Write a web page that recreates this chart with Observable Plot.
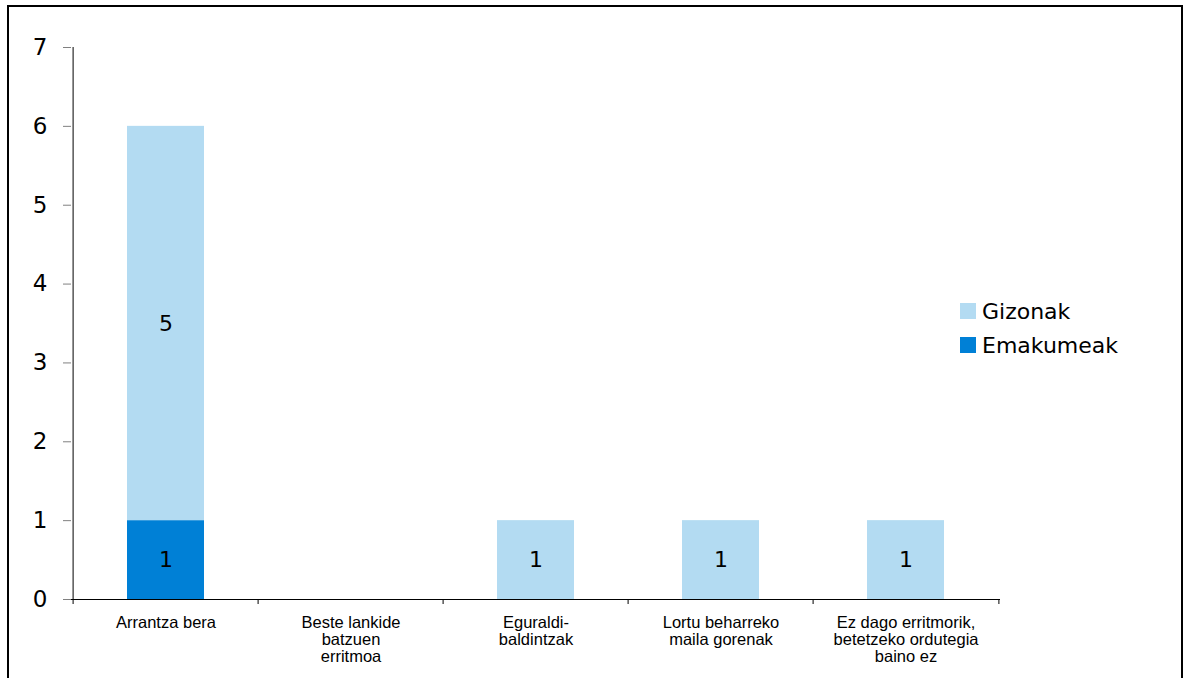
<!DOCTYPE html>
<html>
<head>
<meta charset="utf-8">
<script src="https://cdn.jsdelivr.net/npm/d3@7"></script>
<script src="https://cdn.jsdelivr.net/npm/@observablehq/plot@0.6"></script>
<style>
  html, body { margin: 0; padding: 0; background: #fff; }
  #wrap { position: relative; width: 1183px; height: 678px; overflow: hidden; }
  #frame { position: absolute; left: 7px; top: 5px; width: 1176px; height: 700px;
           border: 2px solid #000; border-bottom: none; box-sizing: border-box; }
  #legend { position: absolute; left: 960px; top: 294px; font-family: "DejaVu Sans", Verdana, sans-serif;
            font-size: 22px; color: #000; }
  .item { display: flex; align-items: center; height: 34px; }
  .sw { width: 16px; height: 16px; margin-right: 6px; }
</style>
</head>
<body>
<div id="wrap">
  <div id="chart"></div>
  <div id="frame"></div>
  <div id="legend"></div>
</div>
<script>
const categories = [
  "Arrantza bera",
  "Beste lankide\nbatzuen\nerritmoa",
  "Eguraldi-\nbaldintzak",
  "Lortu beharreko\nmaila gorenak",
  "Ez dago erritmorik,\nbetetzeko ordutegia\nbaino ez"
];
const seriesNames = ["Emakumeak", "Gizonak"];
const emakumeak = [1, 0, 0, 0, 0];
const gizonak = [5, 0, 1, 1, 1];
const colors = ["#0080d6", "#b3dbf2"];
const yTicks = [0, 1, 2, 3, 4, 5, 6, 7];

const data = [];
categories.forEach((c, i) => data.push({cat: c, series: "Emakumeak", value: emakumeak[i]}));
categories.forEach((c, i) => data.push({cat: c, series: "Gizonak", value: gizonak[i]}));

const W = 1183, H = 678, mL = 71, mR = 183, mT = 47, mB = 79;
const step = (W - mL - mR) / categories.length;

const chart = Plot.plot({
  width: W, height: H,
  marginLeft: mL, marginRight: mR, marginTop: mT, marginBottom: mB,
  x: {domain: categories, paddingInner: 0.586, paddingOuter: 0.293, axis: null},
  y: {domain: [0, 7], axis: null},
  color: {domain: seriesNames, range: colors},
  style: {background: "transparent"},
  marks: [
    Plot.barY(data, Plot.stackY({x: "cat", y: "value", fill: "series", order: seriesNames})),
    Plot.text(data, Plot.stackY({
      x: "cat", y: "value", z: "series", order: seriesNames,
      text: d => d.value > 0 ? String(d.value) : "",
      fontSize: 22, fontFamily: "DejaVu Sans, Verdana, sans-serif", fill: "#000"
    })),
    Plot.axisY({ticks: yTicks, tickFormat: d3.format("d"), tickSize: 8, tickPadding: 16, stroke: "#808080", fill: "#000",
      fontSize: 23, fontFamily: "DejaVu Sans, Verdana, sans-serif", label: null}),
    Plot.ruleX([categories[0]], {dx: -step / 2, y1: 0, y2: 7, stroke: "#000"}),
    Plot.ruleY([0], {stroke: "#000"}),
    Plot.axisX({ticks: categories, tickSize: 5, tickFormat: () => "", dx: -step / 2, stroke: "#000", label: null}),
    Plot.axisX({ticks: [categories[categories.length - 1]], tickSize: 5, tickFormat: () => "", dx: step / 2, stroke: "#000", label: null}),
    Plot.axisX({ticks: categories, tickSize: 0, tickPadding: 16, fill: "#000", label: null,
      fontSize: 16.5, fontFamily: "'Liberation Sans', Arial, sans-serif", lineHeight: 1.03, textAnchor: "middle"})
  ]
});
document.getElementById("chart").append(chart);

const legend = document.getElementById("legend");
["Gizonak", "Emakumeak"].forEach(name => {
  const idx = seriesNames.indexOf(name);
  const it = document.createElement("div");
  it.className = "item";
  const sw = document.createElement("div");
  sw.className = "sw";
  sw.style.background = colors[idx];
  const t = document.createElement("span");
  t.textContent = name;
  it.append(sw, t);
  legend.append(it);
});
</script>
</body>
</html>
